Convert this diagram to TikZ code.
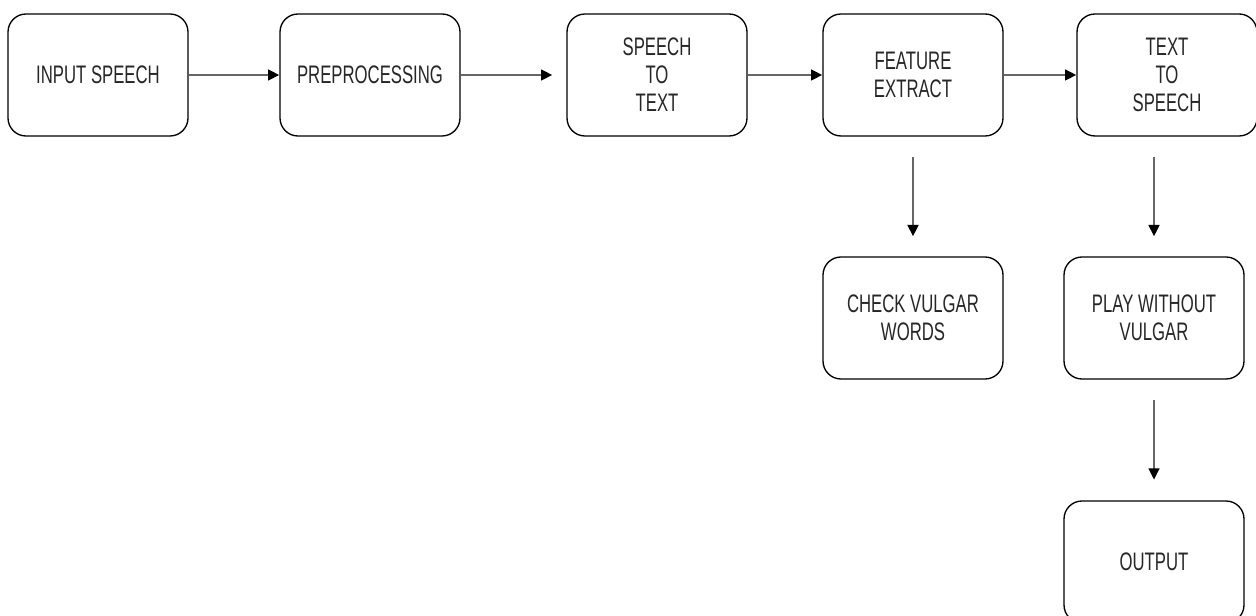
\documentclass[tikz,border=0pt]{standalone}
\usepackage{fontspec}
\setmainfont{Liberation Sans}[FakeStretch=0.66]
\usetikzlibrary{positioning,arrows.meta}

\tikzset{
  stage/.style={draw, rounded corners=13.5pt, line width=1pt, minimum width=135pt,
    minimum height=91.5pt, align=center, inner sep=0pt, text=black!85},
  flow/.style={draw=black!60, line width=1.8pt, -{Triangle[length=8.5pt,width=8pt,color=black]}}
}

\begin{document}
\begin{tikzpicture}[x=0.75pt, y=-0.75pt, font=\fontsize{19}{21}\selectfont]
  \useasboundingbox (0,0) rectangle (1256,616);
  % Top row
  \node[stage] (in)  at (98,75)   {INPUT SPEECH};
  \node[stage] (pre) at (370,75)  {PREPROCESSING};
  \node[stage] (stt) at (657,75)  {SPEECH\\TO\\TEXT};
  \node[stage] (fe)  at (913,75)  {FEATURE\\EXTRACT};
  \node[stage] (tts) at (1167,75) {TEXT\\TO\\SPEECH};
  % Lower boxes
  \node[stage] (check) at (913,318)  {CHECK VULGAR\\WORDS};
  \node[stage] (play)  at (1154,318) {PLAY WITHOUT\\VULGAR};
  \node[stage] (out)   at (1154,562) {OUTPUT};
  % Arrows
  \foreach \a/\b/\s in {in/pre/0, pre/stt/10.5, stt/fe/0, fe/tts/0}
    \draw[flow, shorten >=\s pt] (\a) -- (\b);
  \draw[flow, shorten <=15pt, shorten >=15pt] (fe) -- (check);
  \draw[flow, shorten <=15pt, shorten >=15pt] (tts.south -| play) -- (play);
  \draw[flow, shorten <=15pt, shorten >=15.5pt] (play) -- (out);
\end{tikzpicture}
\end{document}
